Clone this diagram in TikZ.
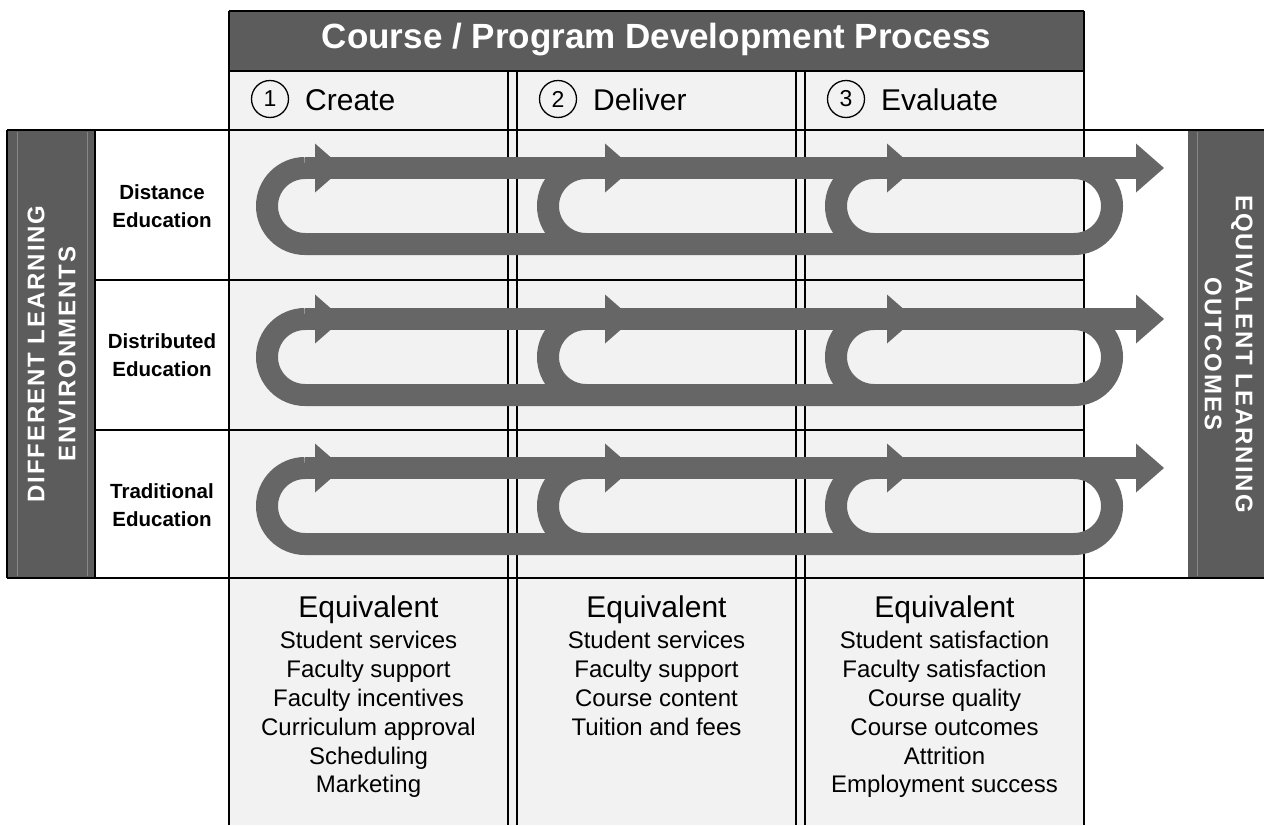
\documentclass[tikz,border=0pt]{standalone}
\usepackage{fontspec}
\setmainfont{Liberation Sans}

\definecolor{bargray}{RGB}{92,92,92}
\definecolor{loopgray}{RGB}{102,102,102}
\definecolor{cellgray}{RGB}{242,242,242}
\definecolor{rulegray}{RGB}{135,135,135}

\tikzset{grid/.style={draw=black,line width=2pt}}
\tikzset{loopband/.style={draw=loopgray,line width=22pt}}
\tikzset{stepnum/.style={circle,draw=black,line width=1.3pt,minimum size=37pt,inner sep=0pt,font=\fontsize{23}{23}\selectfont}}
\tikzset{phase/.style={anchor=base west,inner sep=0pt,font=\fontsize{30}{30}\selectfont}}
\tikzset{envlabel/.style={align=center,inner sep=0pt,font=\bfseries\fontsize{20.5}{28.5}\selectfont}}
\tikzset{sidelabel/.style={align=center,text=white,inner sep=0pt,font=\bfseries\fontsize{24}{31}\selectfont\addfontfeature{LetterSpace=8}}}
\tikzset{eqhead/.style={anchor=base,inner sep=0pt,font=\fontsize{30}{30}\selectfont}}
\tikzset{eqitem/.style={anchor=base,inner sep=0pt,font=\fontsize{24}{24}\selectfont}}

\begin{document}
\begin{tikzpicture}[x=1pt,y=-1pt]
    \useasboundingbox (0,0) rectangle (1264,825);
    % backgrounds
    \fill[cellgray] (229,71) rectangle (1084,825);
    \fill[bargray]  (229,11) rectangle (1084,71);
    \fill[bargray]  (7,130)  rectangle (95,578);
    \fill[bargray]  (1188,130) rectangle (1264,578);
    \foreach \x in {17,87}
      \draw[rulegray,line width=1pt] (\x,132) -- (\x,576);
    \draw[rulegray,line width=1pt] (1197,132) -- (1197,576);
    % table rules
    \draw[grid] (229,11) -- (1084,11);
    \draw[grid] (229,71) -- (1084,71);
    \draw[grid] (7,130)  -- (1264,130);
    \draw[grid] (7,578)  -- (1264,578);
    \draw[grid] (95,280) -- (1084,280);
    \draw[grid] (95,430) -- (1084,430);
    \draw[grid] (7,130)  -- (7,578);
    \draw[grid] (95,130) -- (95,578);
    \foreach \x in {229,1084}
      \draw[grid] (\x,11) -- (\x,825);
    \foreach \x in {508,517,796,805}
      \draw[grid] (\x,71) -- (\x,825);

    % loops, one per learning environment
    \foreach \yt in {168,319,468} {
      \pgfmathsetmacro{\yb}{\yt+76}
      % back stroke with the outer turns
      \draw[loopband] (305,\yt) arc[start angle=270,end angle=90,radius=38]
        -- (1074,\yb) arc[start angle=90,end angle=-90,radius=38];
      % inner turns
      \draw[loopband] (586,\yb) arc[start angle=90,end angle=270,radius=38];
      \draw[loopband] (874,\yb) arc[start angle=90,end angle=270,radius=38];
      % forward stroke
      \draw[loopband] (305,\yt) -- (1137,\yt);
      \foreach \bx in {315,605,887,1136}
        \fill[loopgray] (\bx,{\yt-24.5}) -- ({\bx+28},\yt) -- (\bx,{\yt+24.5}) -- cycle;
    }

    % title and phases
    \node[anchor=base,inner sep=0pt,text=white,font=\bfseries\fontsize{35}{35}\selectfont]
      (title) at (656.5,48) {Course / Program Development Process};
    \foreach \n/\x/\name in {1/229/Create,2/517/Deliver,3/805/Evaluate} {
      \node[stepnum] (num\n)   at ({\x+41},99) {\n};
      \node[phase]   (phase\n) at ({\x+76},110) {\name};
    }

    % environments
    \node[sidelabel,rotate=90]  (envs)     at (51.5,354)   {DIFFERENT LEARNING\\ENVIRONMENTS};
    \node[sidelabel,rotate=-90] (outcomes) at (1228.5,354) {EQUIVALENT LEARNING\\OUTCOMES};
    \node[envlabel] (distance)    at (162,206) {Distance\\Education};
    \node[envlabel] (distributed) at (162,355) {Distributed\\Education};
    \node[envlabel] (traditional) at (162,505) {Traditional\\Education};

    % equivalents per phase
    \node[eqhead] (eqcreate)   at (368.5,617) {Equivalent};
    \node[eqhead] (eqdeliver)  at (656.5,617) {Equivalent};
    \node[eqhead] (eqevaluate) at (944.5,617) {Equivalent};
    \foreach \item [count=\i] in {Student services,Faculty support,Faculty incentives,Curriculum approval,Scheduling,Marketing}
      \node[eqitem] (create\i) at (368.5,{620+28.8*\i}) {\item};
    \foreach \item [count=\i] in {Student services,Faculty support,Course content,Tuition and fees}
      \node[eqitem] (deliver\i) at (656.5,{620+28.8*\i}) {\item};
    \foreach \item [count=\i] in {Student satisfaction,Faculty satisfaction,Course quality,Course outcomes,Attrition,Employment success}
      \node[eqitem] (evaluate\i) at (944.5,{620+28.8*\i}) {\item};
\end{tikzpicture}
\end{document}
